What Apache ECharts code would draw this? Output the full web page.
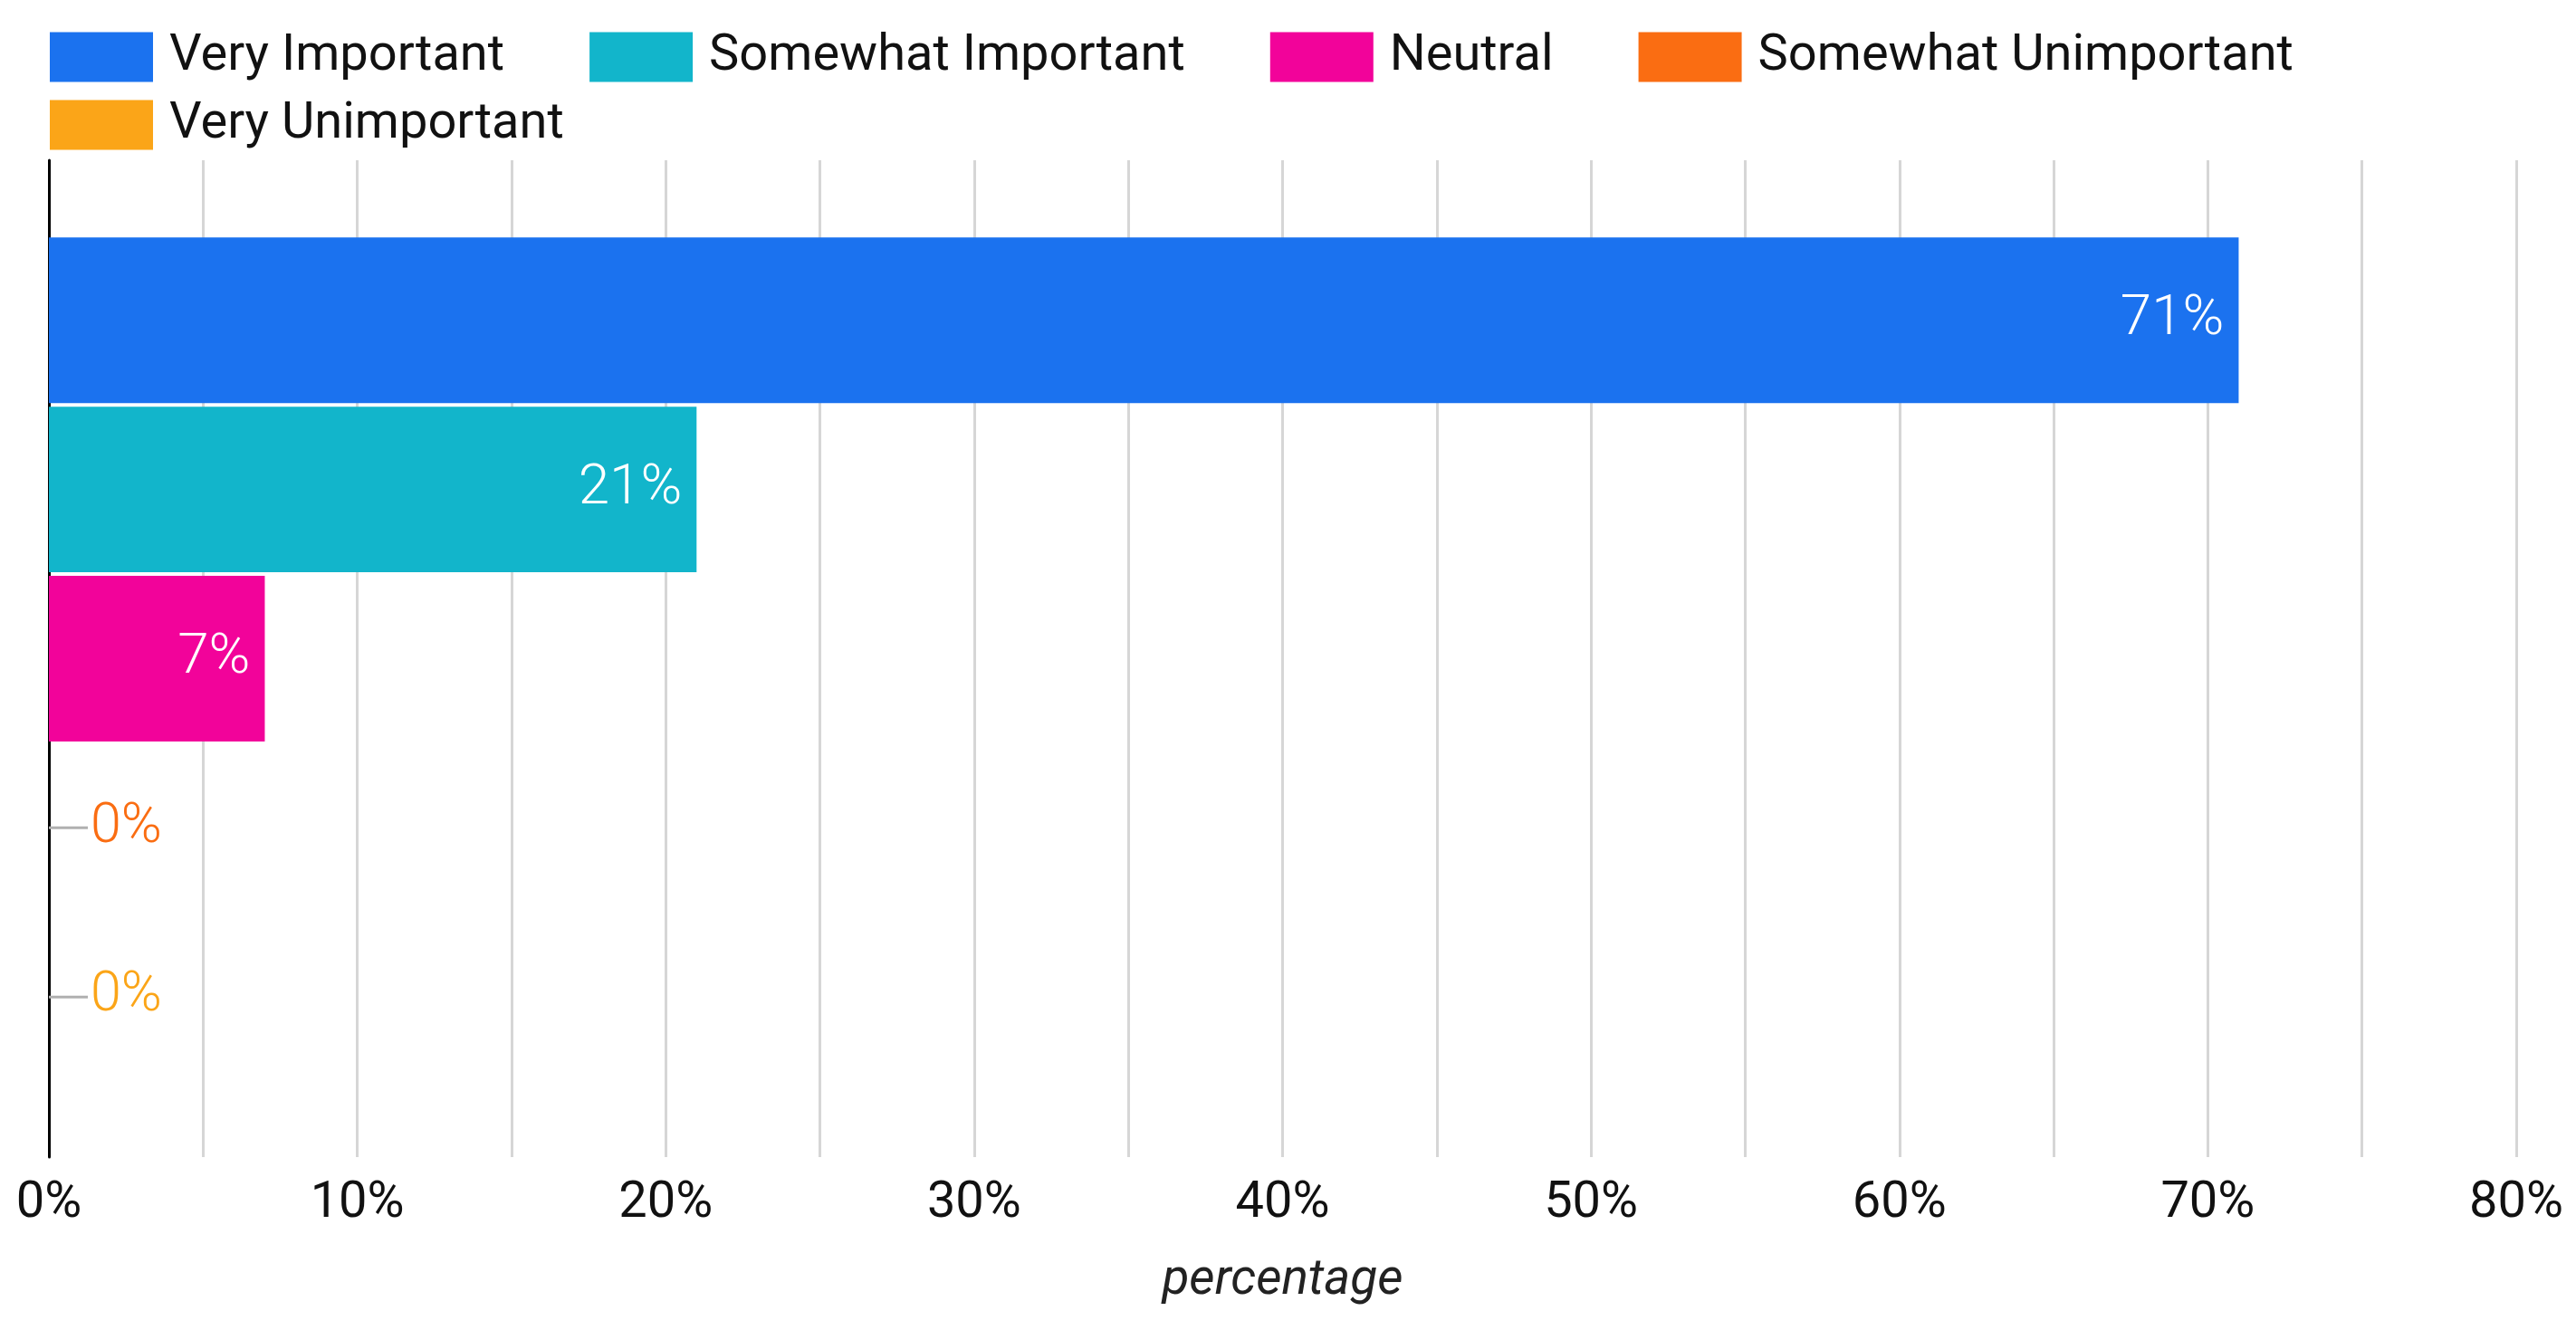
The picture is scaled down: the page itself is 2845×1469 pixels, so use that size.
<!DOCTYPE html>
<html>
<head>
<meta charset="utf-8">
<script src="https://cdn.jsdelivr.net/npm/echarts@6/dist/echarts.min.js"></script>
<style>
html,body{margin:0;padding:0;background:#fff;}
#chart{width:2845px;height:1469px;}
</style>
</head>
<body>
<div id="chart"></div>
<script>
const categories = ['percentage'];
const seriesNames = ['Very Important', 'Somewhat Important', 'Neutral', 'Somewhat Unimportant', 'Very Unimportant'];
const seriesValues = [71, 21, 7, 0, 0];
const seriesColors = ['#1B72EF', '#12B5CB', '#F2039A', '#FA6D12', '#FBA518'];
const axisMax = 80;

const FONT = 'Roboto';
const chart = echarts.init(document.getElementById('chart'), null, {renderer: 'canvas'});

const series = seriesNames.map((name, i) => {
  const v = seriesValues[i];
  const labelCfg = v === 0 ? {
    show: true,
    position: 'right',
    distance: 0,
    formatter: '{l|}{z|' + v + '%}',
    rich: {
      l: {width: 43, height: 3, backgroundColor: '#B0B0B0'},
      z: {fontFamily: FONT, fontSize: 61, fontWeight: 300, color: seriesColors[i], padding: [0, 0, 0, 3]}
    }
  } : {
    show: true,
    position: 'insideRight',
    distance: 16,
    formatter: v + '%',
    fontFamily: FONT,
    fontSize: 62,
    fontWeight: 300,
    color: '#fff'
  };
  return {
    name: name,
    type: 'bar',
    barCategoryGap: '15.5%',
    barGap: '2.2%',
    itemStyle: {color: seriesColors[i]},
    data: [{value: v, label: labelCfg}]
  };
});

const legendText = {fontFamily: FONT, fontSize: 56, color: '#111', padding: [0, 0, 0, 13]};
const option = {
  animation: false,
  backgroundColor: '#fff',
  textStyle: {fontFamily: FONT},
  legend: [{
    left: 50, top: 30,
    itemWidth: 114, itemHeight: 55, itemGap: 94,
    icon: 'rect',
    data: seriesNames.slice(0, 4),
    textStyle: legendText
  }, {
    left: 50, top: 105,
    itemWidth: 114, itemHeight: 55, itemGap: 94,
    icon: 'rect',
    data: seriesNames.slice(4),
    textStyle: legendText
  }],
  grid: {left: 54, right: 66, top: 177, bottom: 191, containLabel: false},
  xAxis: {
    type: 'value',
    min: 0, max: axisMax, interval: 5,
    name: 'percentage',
    nameLocation: 'middle',
    nameGap: 110,
    nameTextStyle: {fontFamily: FONT, fontSize: 55, fontStyle: 'italic', color: '#222'},
    axisLine: {show: false},
    axisTick: {show: false},
    axisLabel: {
      fontFamily: FONT, fontSize: 56, color: '#111', margin: 24,
      formatter: v => (v % 10 === 0 ? v + '%' : '')
    },
    splitLine: {show: true, lineStyle: {color: '#D6D6D6', width: 3}}
  },
  yAxis: {
    type: 'category',
    data: categories,
    axisLine: {show: true, lineStyle: {color: '#000', width: 3}},
    axisTick: {show: false},
    axisLabel: {show: false},
    splitLine: {show: false}
  },
  series: series
};
chart.setOption(option);
</script>
</body>
</html>
